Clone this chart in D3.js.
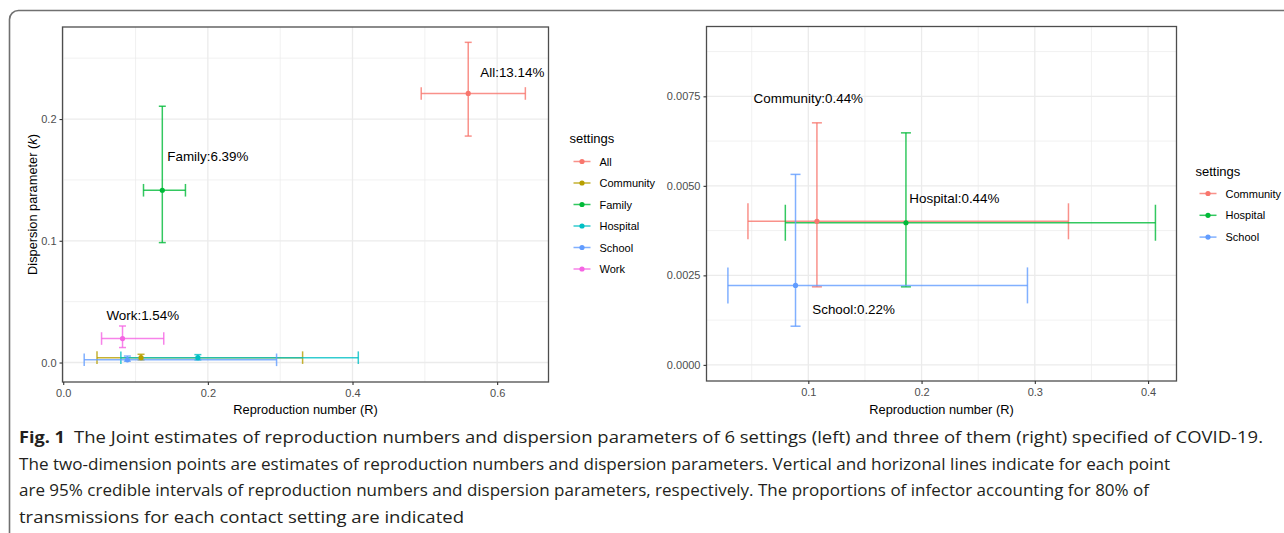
<!DOCTYPE html>
<html>
<head>
<meta charset="utf-8">
<script src="https://cdn.jsdelivr.net/npm/d3@7"></script>
<style>
  html, body { margin: 0; padding: 0; background: #fff; }
  svg { display: block; }
  .chart text { font-family: "Liberation Sans", Arial, Helvetica, sans-serif; }
  .caption text { font-family: "Open Sans", "Noto Sans", sans-serif; fill: #231f20; }
</style>
</head>
<body>
<svg id="fig" width="1284" height="533"></svg>
<script>
// ---------------- DATA ----------------
const leftSettings = ["All", "Community", "Family", "Hospital", "School", "Work"];
const leftR      = [0.560, 0.1076, 0.137, 0.1862, 0.0887, 0.082];
const leftRLow   = [0.495, 0.0467, 0.111, 0.0797, 0.0290, 0.053];
const leftRHigh  = [0.639, 0.3310, 0.169, 0.4080, 0.2950, 0.139];
const leftK      = [0.221, 0.00401, 0.1415, 0.00397, 0.00222, 0.0197];
const leftKLow   = [0.186, 0.00218, 0.0985, 0.00218, 0.00108, 0.0123];
const leftKHigh  = [0.263, 0.00676, 0.2105, 0.00648, 0.00532, 0.0300];

const leftLabels    = ["All:13.14%", "Family:6.39%", "Work:1.54%"];
const leftLabelR    = [0.621, 0.200, 0.110];
const leftLabelK    = [0.238, 0.169, 0.039];

const rightSettings = ["Community", "Hospital", "School"];
const rightR      = [0.1076, 0.1862, 0.0887];
const rightRLow   = [0.0467, 0.0797, 0.0290];
const rightRHigh  = [0.3297, 0.4065, 0.2935];
const rightK      = [0.00401, 0.00397, 0.00222];
const rightKLow   = [0.00218, 0.00218, 0.00108];
const rightKHigh  = [0.00676, 0.00648, 0.00532];

const rightLabels = ["Community:0.44%", "Hospital:0.44%", "School:0.22%"];
const rightLabelR = [0.100, 0.229, 0.140];
const rightLabelK = [0.00743, 0.00465, 0.00154];

const leftXTicks  = [0, 0.2, 0.4, 0.6];
const leftXMinor  = [0.1, 0.3, 0.5];
const leftYTicks  = [0, 0.1, 0.2];
const leftYMinor  = [0.05, 0.15, 0.25];
const rightXTicks = [0.1, 0.2, 0.3, 0.4];
const rightXMinor = [0.05, 0.15, 0.25, 0.35];
const rightYTicks = [0, 0.0025, 0.005, 0.0075];
const rightYMinor = [0.00125, 0.00375, 0.00625, 0.00875];

const leftColors  = ["#F8766D", "#B79F00", "#00BA38", "#00BFC4", "#619CFF", "#F564E3"];
const rightColors = ["#F8766D", "#00BA38", "#619CFF"];

const captionBold = "Fig. 1";
const captionLines = [
  "The Joint estimates of reproduction numbers and dispersion parameters of 6 settings (left) and three of them (right) specified of COVID-19.",
  "The two-dimension points are estimates of reproduction numbers and dispersion parameters. Vertical and horizonal lines indicate for each point",
  "are 95% credible intervals of reproduction numbers and dispersion parameters, respectively. The proportions of infector accounting for 80% of",
  "transmissions for each contact setting are indicated"
];

// ---------------- DRAW ----------------
const svg = d3.select("#fig");

// outer frame (continues beyond the visible area on the right and bottom)
svg.append("rect")
  .attr("x", 9.5).attr("y", 10.5).attr("width", 1300).attr("height", 540)
  .attr("rx", 9).attr("ry", 9)
  .attr("fill", "none").attr("stroke", "#707070").attr("stroke-width", 1.6);

function panel(cfg) {
  const g = svg.append("g").attr("class", "chart");
  const x = d3.scaleLinear().domain(cfg.xDomain).range(cfg.xRange);
  const y = d3.scaleLinear().domain(cfg.yDomain).range(cfg.yRange);
  const [x0, x1] = cfg.xRange, [y1, y0] = cfg.yRange;

  g.append("rect").attr("x", x0).attr("y", y0).attr("width", x1 - x0).attr("height", y1 - y0)
    .attr("fill", "#fff");

  // minor grid
  g.selectAll(".mx").data(cfg.xMinor).join("line")
    .attr("x1", d => x(d)).attr("x2", d => x(d)).attr("y1", y0).attr("y2", y1)
    .attr("stroke", "#EBEBEB").attr("stroke-width", 0.7);
  g.selectAll(".my").data(cfg.yMinor).join("line")
    .attr("y1", d => y(d)).attr("y2", d => y(d)).attr("x1", x0).attr("x2", x1)
    .attr("stroke", "#EBEBEB").attr("stroke-width", 0.7);
  // major grid
  g.selectAll(".Mx").data(cfg.xTicks).join("line")
    .attr("x1", d => x(d)).attr("x2", d => x(d)).attr("y1", y0).attr("y2", y1)
    .attr("stroke", "#EBEBEB").attr("stroke-width", 1.3);
  g.selectAll(".My").data(cfg.yTicks).join("line")
    .attr("y1", d => y(d)).attr("y2", d => y(d)).attr("x1", x0).attr("x2", x1)
    .attr("stroke", "#EBEBEB").attr("stroke-width", 1.3);

  const n = cfg.names.length;
  const idx = d3.range(n);
  const marks = g.append("g");
  const lineOpacity = 0.8;
  const lw = 1.5;

  idx.forEach(i => {
    const c = cfg.colors[i];
    const gi = marks.append("g").attr("stroke", c).attr("stroke-width", lw).attr("stroke-opacity", lineOpacity);
    gi.append("line").attr("x1", x(cfg.R[i])).attr("x2", x(cfg.R[i]))
      .attr("y1", y(cfg.KLow[i])).attr("y2", y(cfg.KHigh[i]));
    [cfg.KLow[i], cfg.KHigh[i]].forEach(v => {
      gi.append("line").attr("x1", x(cfg.R[i]) - cfg.vCap).attr("x2", x(cfg.R[i]) + cfg.vCap)
        .attr("y1", y(v)).attr("y2", y(v));
    });
    gi.append("line").attr("x1", x(cfg.RLow[i])).attr("x2", x(cfg.RHigh[i]))
      .attr("y1", y(cfg.K[i])).attr("y2", y(cfg.K[i]));
    [cfg.RLow[i], cfg.RHigh[i]].forEach(v => {
      gi.append("line").attr("x1", x(v)).attr("x2", x(v))
        .attr("y1", y(cfg.K[i]) - cfg.hCap).attr("y2", y(cfg.K[i]) + cfg.hCap);
    });
  });
  marks.selectAll("circle").data(idx).join("circle")
    .attr("cx", i => x(cfg.R[i])).attr("cy", i => y(cfg.K[i])).attr("r", 2.6)
    .attr("fill", i => cfg.colors[i]);

  g.selectAll(".lab").data(cfg.labels).join("text")
    .attr("x", (d, i) => x(cfg.labelR[i])).attr("y", (d, i) => y(cfg.labelK[i]))
    .attr("text-anchor", "middle").attr("dominant-baseline", "central")
    .attr("font-size", 13.4).attr("fill", "#000").text(d => d);

  g.append("rect").attr("x", x0).attr("y", y0).attr("width", x1 - x0).attr("height", y1 - y0)
    .attr("fill", "none").attr("stroke", "#4d4d4d").attr("stroke-width", 1.3);

  const xa = g.append("g").attr("transform", `translate(0,${y1})`)
    .call(d3.axisBottom(x).tickValues(cfg.xTicks).tickFormat(cfg.xFmt).tickSize(3).tickPadding(4));
  const ya = g.append("g").attr("transform", `translate(${x0},0)`)
    .call(d3.axisLeft(y).tickValues(cfg.yTicks).tickFormat(cfg.yFmt).tickSize(3).tickPadding(3));
  [xa, ya].forEach(a => {
    a.select(".domain").remove();
    a.selectAll(".tick line").attr("stroke", "#333").attr("stroke-width", 1.1);
    a.selectAll(".tick text").attr("fill", "#4D4D4D").attr("font-size", 11)
      .attr("font-family", "'Liberation Sans', Arial, sans-serif");
  });

  g.append("text").attr("x", (x0 + x1) / 2).attr("y", 409.5)
    .attr("text-anchor", "middle").attr("dominant-baseline", "central")
    .attr("font-size", 12.8).attr("fill", "#000").text("Reproduction number (R)");

  if (cfg.yTitle) {
    const t = g.append("text")
      .attr("transform", `translate(31.5,${(y0 + y1) / 2}) rotate(-90)`)
      .attr("text-anchor", "middle").attr("dominant-baseline", "central")
      .attr("font-size", 12.8).attr("fill", "#000");
    t.append("tspan").text("Dispersion parameter (");
    t.append("tspan").attr("font-style", "italic").text("k");
    t.append("tspan").text(")");
  }

  const lg = g.append("g");
  lg.append("text").attr("x", cfg.legX).attr("y", cfg.legTitleY)
    .attr("dominant-baseline", "central").attr("font-size", 13).attr("fill", "#000").text("settings");
  const items = lg.selectAll(".li").data(idx).join("g")
    .attr("transform", i => `translate(0,${cfg.legY0 + i * cfg.legStep})`);
  items.append("line").attr("x1", cfg.legX + 4).attr("x2", cfg.legX + 21)
    .attr("y1", 0).attr("y2", 0)
    .attr("stroke", i => cfg.colors[i]).attr("stroke-width", lw).attr("stroke-opacity", lineOpacity);
  items.append("circle").attr("cx", cfg.legX + 12.5).attr("cy", 0).attr("r", 2.6)
    .attr("fill", i => cfg.colors[i]);
  items.append("text").attr("x", cfg.legX + 30).attr("y", 0)
    .attr("dominant-baseline", "central").attr("font-size", 11).attr("fill", "#000")
    .text(i => cfg.names[i]);
}

panel({
  names: leftSettings, colors: leftColors,
  R: leftR, RLow: leftRLow, RHigh: leftRHigh, K: leftK, KLow: leftKLow, KHigh: leftKHigh,
  labels: leftLabels, labelR: leftLabelR, labelK: leftLabelK,
  xDomain: [-0.001, 0.671], xRange: [62.5, 548.5],
  yDomain: [-0.016, 0.2756], yRange: [382, 27],
  xTicks: leftXTicks, xMinor: leftXMinor, yTicks: leftYTicks, yMinor: leftYMinor,
  xFmt: d3.format(".1f"), yFmt: d3.format(".1f"),
  vCap: 3.5, hCap: 6.3, yTitle: true,
  legX: 569.5, legTitleY: 138, legY0: 161.5, legStep: 21.5
});

panel({
  names: rightSettings, colors: rightColors,
  R: rightR, RLow: rightRLow, RHigh: rightRHigh, K: rightK, KLow: rightKLow, KHigh: rightKHigh,
  labels: rightLabels, labelR: rightLabelR, labelK: rightLabelK,
  xDomain: [0.0101, 0.4251], xRange: [706.5, 1176.5],
  yDomain: [-0.00045, 0.00945], yRange: [381, 26.5],
  xTicks: rightXTicks, xMinor: rightXMinor, yTicks: rightYTicks, yMinor: rightYMinor,
  xFmt: d3.format(".1f"), yFmt: d3.format(".4f"),
  vCap: 5, hCap: 18, yTitle: false,
  legX: 1195.5, legTitleY: 171, legY0: 193.5, legStep: 21.8
});

// caption
const cap = svg.append("g").attr("class", "caption");
const capX = 19, capTextX = 74;
const capBase = [443, 469.5, 496, 522.5];
const capEnds = [1263, 1170, 1149, 464];
cap.append("text").attr("x", capX).attr("y", capBase[0])
  .attr("font-size", 16.5).attr("font-weight", "bold").attr("textLength", 46)
  .attr("lengthAdjust", "spacingAndGlyphs").text(captionBold);
captionLines.forEach((t, i) => {
  const sx = i === 0 ? capTextX : capX;
  cap.append("text").attr("x", sx).attr("y", capBase[i])
    .attr("font-size", 16.5).attr("textLength", capEnds[i] - sx)
    .attr("lengthAdjust", "spacingAndGlyphs").text(t);
});
</script>
</body>
</html>
